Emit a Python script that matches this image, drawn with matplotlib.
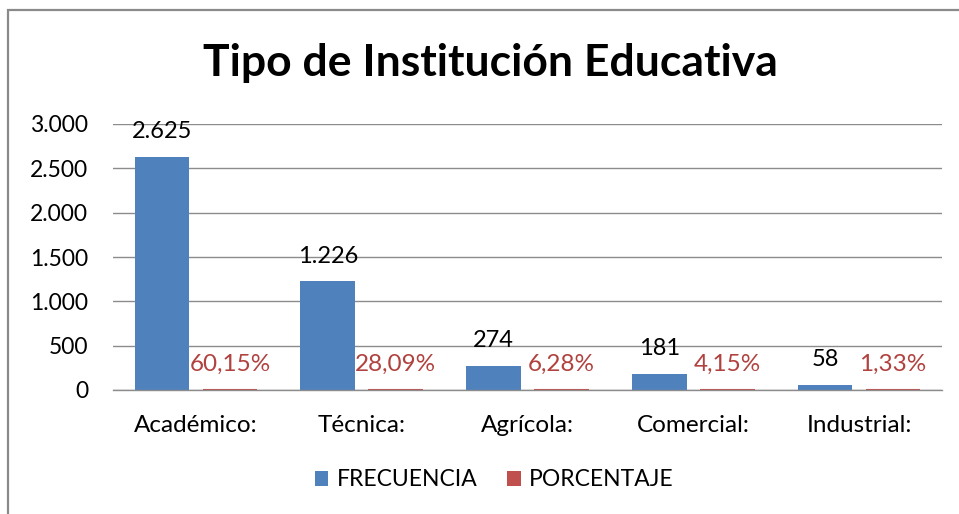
import matplotlib
matplotlib.use("Agg")
import matplotlib.pyplot as plt
from matplotlib.patches import Rectangle, Patch
import numpy as np

categories = ["Académico:", "Técnica:", "Agrícola:", "Comercial:", "Industrial:"]
frecuencia = [2625, 1226, 274, 181, 58]
porcentaje = [0.6015, 0.2809, 0.0628, 0.0415, 0.0133]
yticks = [0, 500, 1000, 1500, 2000, 2500, 3000]
ytick_labels = ["0", "500", "1.000", "1.500", "2.000", "2.500", "3.000"]
title = "Tipo de Institución Educativa"
series_names = ["FRECUENCIA", "PORCENTAJE"]

BLUE = "#4F81BD"
RED = "#C0504D"
RED_TXT = "#B0423F"
FONT = "Lato"

W, H = 959, 514
fig = plt.figure(figsize=(W / 100, H / 100), dpi=100)
fig.patch.set_facecolor("white")

# outer chart frame
fig.patches.append(Rectangle((8 / W, -0.1), 1.2, (H - 10) / H + 0.1,
                             transform=fig.transFigure, fill=False,
                             edgecolor="#8a8a8a", linewidth=1.6))

ax = fig.add_axes([113 / W, (H - 390) / H, (942 - 113) / W, (390 - 124) / H])
x = np.arange(len(categories))
w = 0.33
off = 0.205
ax.bar(x - off, frecuencia, width=w, color=BLUE, zorder=3)
ax.bar(x + off, porcentaje, width=w, color=RED, edgecolor=RED, linewidth=1.5, zorder=3)

for xi, v in zip(x, frecuencia):
    lbl = f"{v:,}".replace(",", ".")
    ax.annotate(lbl, (xi - off, v), xytext=(0, 13.5), textcoords="offset points",
                ha="center", va="baseline", fontsize=17, color="black",
                family=FONT, zorder=4)
for xi, v in zip(x, porcentaje):
    lbl = f"{v * 100:.2f}%".replace(".", ",")
    ax.annotate(lbl, (xi + off, v), xytext=(0, 13.5), textcoords="offset points",
                ha="center", va="baseline", fontsize=17.5, color=RED_TXT,
                family=FONT, zorder=4)

ax.set_xlim(-0.5, len(categories) - 0.5)
ax.set_ylim(0, 3000)
ax.set_yticks(yticks)
ax.set_yticklabels(ytick_labels, family=FONT, fontsize=16.5)
ax.set_xticks(x)
ax.set_xticklabels(categories, family=FONT, fontsize=17.5)
ax.tick_params(axis="y", length=0, pad=18)
ax.tick_params(axis="x", length=0, pad=18)
ax.yaxis.grid(True, color="#8c8c8c", linewidth=1.0, zorder=0)
for s in ["top", "right", "left"]:
    ax.spines[s].set_visible(False)
ax.spines["bottom"].set_color("#8c8c8c")
ax.spines["bottom"].set_linewidth(1.0)
ax.spines["bottom"].set_zorder(5)

fig.text(490 / W, 1 - 63 / H, title, ha="center", va="center",
         fontsize=32, fontweight="bold", family=FONT)

handles = [Patch(facecolor=BLUE), Patch(facecolor=RED)]
leg = fig.legend(handles, series_names, loc="center", bbox_to_anchor=(494 / W, 1 - 480 / H),
                 ncol=2, frameon=False, prop={"family": FONT, "size": 16.5},
                 handlelength=0.6, handleheight=0.6, handletextpad=0.35, columnspacing=1.3)

fig.savefig("out.png", dpi=100)
